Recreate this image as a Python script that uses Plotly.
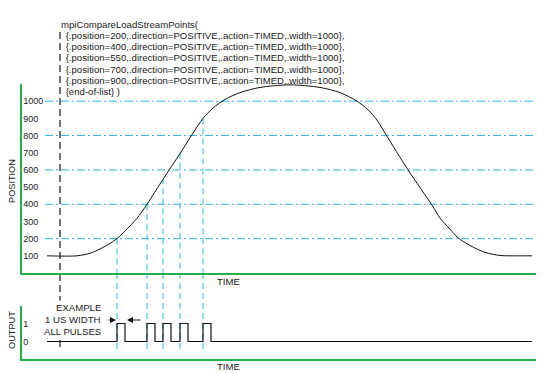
import plotly.graph_objects as go

W, H = 547, 373


def px(x):
    return x / W


def py(y):
    return 1 - y / H


# ---------------- data ----------------
time_pts = [25, 55, 68, 78, 88, 95, 103, 115, 125, 141, 158, 181, 191, 203, 218,
            238, 268, 298, 318, 335, 346, 355, 364, 386, 410, 418, 428, 436, 448,
            463, 478, 488, 510]
position_pts = [100, 100, 115, 140, 172, 200, 245, 318, 400, 545, 695, 900, 960,
                1010, 1050, 1080, 1095, 1080, 1050, 1000, 950, 890, 805, 600, 395,
                320, 255, 205, 160, 120, 102, 100, 100]

compare_positions = [200, 400, 550, 700, 900]
compare_times = [95, 125, 141, 158, 181]
pulse_width = 8
output_start, output_end = 25, 510

grid_levels = [200, 400, 600, 800, 1000]
pos_ticks = [100, 200, 300, 400, 500, 600, 700, 800, 900, 1000]
out_ticks = [0, 1]

code_lines = [
    "mpiCompareLoadStreamPoints(",
    " {.position=200,.direction=POSITIVE,.action=TIMED,.width=1000},",
    " {.position=400,.direction=POSITIVE,.action=TIMED,.width=1000},",
    " {.position=550,.direction=POSITIVE,.action=TIMED,.width=1000},",
    " {.position=700,.direction=POSITIVE,.action=TIMED,.width=1000},",
    " {.position=900,.direction=POSITIVE,.action=TIMED,.width=1000},",
    " {end-of-list} )",
]
start_time = 38

# ---------------- styling ----------------
GREEN = "#22b14c"
BLUE = "#2bb5ee"
FONT = "Liberation Sans, Arial, sans-serif"
TXT = "#222222"

# build output step signal from the compare times
out_x = [output_start]
out_y = [0]
for t in compare_times:
    out_x += [t, t + pulse_width]
    out_y += [1, 0]
out_x.append(output_end)
out_y.append(0)

fig = go.Figure()
fig.add_trace(go.Scatter(x=time_pts, y=position_pts, mode="lines",
                         line=dict(color="#111111", width=1, shape="spline", smoothing=0.8),
                         xaxis="x", yaxis="y", hoverinfo="skip"))
fig.add_trace(go.Scatter(x=out_x, y=out_y, mode="lines",
                         line=dict(color="#111111", width=1.2, shape="hv"),
                         xaxis="x2", yaxis="y2", hoverinfo="skip"))

shapes = []
for v in grid_levels:
    shapes.append(dict(type="line", xref="x", yref="y", x0=23, x1=513, y0=v, y1=v,
                       line=dict(color=BLUE, width=1, dash="8px,3px,2px,3px"), layer="below"))
for t, p in zip(compare_times, compare_positions):
    shapes.append(dict(type="line", xref="x", yref="y", x0=t, x1=t, y0=p, y1=0,
                       line=dict(color=BLUE, width=1, dash="6px,4px"), layer="below"))
    shapes.append(dict(type="line", xref="x", yref="paper", x0=t, x1=t, y0=py(273), y1=py(351),
                       line=dict(color=BLUE, width=1, dash="6px,4px"), layer="below"))
shapes.append(dict(type="line", xref="x", yref="paper", x0=start_time, x1=start_time,
                   y0=py(32), y1=py(350),
                   line=dict(color="#444444", width=1.5, dash="7px,4px"), layer="below"))

annotations = []
for i, line in enumerate(code_lines):
    annotations.append(dict(text=line, xref="paper", yref="paper",
                            x=px(59 if i == 0 else 61), y=py(24 + i * 11.33),
                            xanchor="left", yanchor="middle", showarrow=False,
                            font=dict(family=FONT, size=9.6, color=TXT)))
for txt, y in [("EXAMPLE", 307), ("1 US WIDTH", 319.5), ("ALL PULSES", 331)]:
    annotations.append(dict(text=txt, xref="paper", yref="paper", x=px(103), y=py(y),
                            xanchor="right", yanchor="middle", showarrow=False,
                            bgcolor="white", borderpad=1,
                            font=dict(family=FONT, size=9.6, color=TXT)))
for txt, y in [("TIME", 281), ("TIME", 366)]:
    annotations.append(dict(text=txt, xref="paper", yref="paper", x=px(228), y=py(y),
                            xanchor="center", yanchor="middle", showarrow=False,
                            font=dict(family=FONT, size=9.6, color=TXT)))
annotations.append(dict(text="POSITION", xref="paper", yref="paper", x=px(12), y=py(181),
                        xanchor="center", yanchor="middle", showarrow=False, textangle=-90,
                        font=dict(family=FONT, size=9.2, color=TXT)))
annotations.append(dict(text="OUTPUT", xref="paper", yref="paper", x=px(12), y=py(330),
                        xanchor="center", yanchor="middle", showarrow=False, textangle=-90,
                        font=dict(family=FONT, size=9.2, color=TXT)))
# arrows
annotations.append(dict(text="", xref="paper", yref="paper", x=px(116), y=py(320),
                        ax=-9, ay=0, showarrow=True, arrowhead=2, arrowsize=1,
                        arrowwidth=1.2, arrowcolor="#111111"))
annotations.append(dict(text="", xref="paper", yref="paper", x=px(127), y=py(320),
                        ax=15, ay=0, showarrow=True, arrowhead=2, arrowsize=1,
                        arrowwidth=1.2, arrowcolor="#111111"))

axis_common = dict(showgrid=False, zeroline=False, showline=True, linecolor=GREEN,
                   linewidth=2, ticks="", mirror=False, fixedrange=True)

fig.update_layout(
    width=W, height=H,
    margin=dict(l=0, r=0, t=0, b=0),
    paper_bgcolor="white", plot_bgcolor="rgba(0,0,0,0)",
    showlegend=False,
    xaxis=dict(domain=[px(22), px(536)], range=[0, 514], showticklabels=False,
               anchor="y", **axis_common),
    yaxis=dict(domain=[py(273), py(84)], range=[0, 1100], tickvals=pos_ticks,
               ticklabelposition="inside", anchor="x",
               tickfont=dict(family=FONT, size=9, color=TXT), **axis_common),
    xaxis2=dict(domain=[px(22), px(536)], range=[0, 514], showticklabels=False,
                anchor="y2", **axis_common),
    yaxis2=dict(domain=[py(359), py(306)], range=[-0.972, 1.972], tickvals=out_ticks,
                ticklabelposition="inside", anchor="x2",
                tickfont=dict(family=FONT, size=9, color=TXT), **axis_common),
    shapes=shapes,
    annotations=annotations,
)

fig.write_html("out.html", config={"displayModeBar": False},
               post_script="document.body.style.margin='0';document.body.style.overflow='hidden';")
